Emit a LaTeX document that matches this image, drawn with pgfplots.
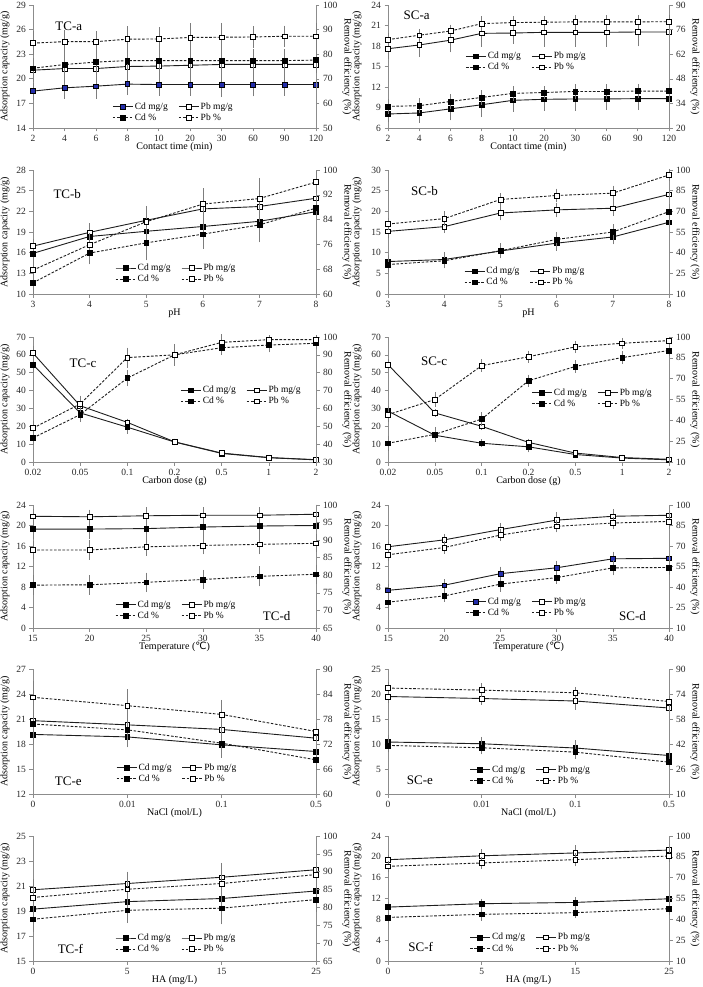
\documentclass[border=0pt]{standalone}
\usepackage{fontspec}
\setmainfont{Liberation Serif}
\newfontfamily\dejavu{DejaVu Sans}
\usepackage{pgfplots}
\pgfplotsset{compat=1.18}
\definecolor{axgray}{RGB}{140,140,140}
\definecolor{ebgray}{RGB}{125,125,125}
\definecolor{lnc}{RGB}{30,30,30}
\definecolor{cdblue}{RGB}{35,45,170}
\tikzset{ttl/.style={anchor=west, font=\fontsize{13}{14}\selectfont}}
\pgfplotsset{
  base/.style={scale only axis, clip=false, xmin=0,
    axis line style={draw=axgray, line width=0.8pt},
    tick style={draw=axgray, line width=0.6pt},
    major tick length=3.5pt, tick align=outside,
    tick label style={font=\fontsize{9.5}{10}\selectfont, text=black!85},
    label style={font=\fontsize{8.7}{10}\selectfont},
    /pgf/number format/assume math mode=true,
    legend image code/.code={\draw[mark repeat=2,mark phase=2,##1] plot coordinates {(0pt,0pt) (10pt,0pt) (20pt,0pt)};},
  },
  PL/.style={at={(33pt,#1)}, anchor=south west, width=283pt},
  PR/.style={at={(388pt,#1)}, anchor=south west, width=281pt},
  yl/.style={every axis y label/.style={at={(axis description cs:0,0.5)}, xshift=#1, rotate=90, anchor=center}},
  yr/.style={every axis y label/.style={at={(axis description cs:1,0.5)}, xshift=#1, rotate=-90, anchor=center}},
  LAX/.style={base, axis y line*=left, axis x line*=bottom, ylabel={Adsorption capacity (mg/g)},
    every axis x label/.style={at={(axis description cs:0.5,0)}, yshift=-19pt, anchor=center}},
  RAX/.style={base, axis y line*=right, axis x line=none, ylabel={Removal efficiency (\%)},
    legend cell align=left,
    legend style={draw=none, fill=none, anchor=north west, legend columns=2,
      font=\fontsize{9.5}{9.5}\selectfont, inner sep=0pt, row sep=0pt,
      nodes={inner sep=1.5pt},
      /tikz/every even column/.append style={column sep=9pt}}},
  cdm/.style={color=lnc, line width=0.9pt, solid, mark=square*, mark size=2.4pt, mark options={solid, fill=black, draw=black, line width=0.5pt}},
  cdmb/.style={cdm, mark options={solid, fill=cdblue, draw=black, line width=0.5pt}},
  pbm/.style={color=lnc, line width=0.9pt, solid, mark=square*, mark size=2.4pt, mark options={solid, fill=white, draw=black, line width=0.6pt}},
  dsh/.style={dash pattern=on 2.6pt off 1.6pt},
  cdp/.style={cdm, dsh},
  pbp/.style={pbm, dsh},
  eb/.style={error bars/y dir=both, error bars/y explicit,
    error bars/error bar style={ebgray, line width=0.5pt, solid},
    error bars/error mark options={ebgray, mark size=2pt, line width=0.5pt, solid}},
}
\begin{document}
\begin{tikzpicture}
\useasboundingbox (0pt,0pt) rectangle (703pt,-987pt);
% ===== TC-a =====
\begin{axis}[LAX, PL=-128pt, height=123pt, yl=-28pt, xmax=9, xtick={0,...,9},
  xticklabels={2,4,6,8,10,20,30,60,90,120}, ymin=14, ymax=29, ytick={14,17,...,29}, xlabel={Contact time (min)}]
\addplot[cdmb, eb] coordinates {(0,18.5)+-(0,0.8) (1,18.9)+-(0,1.1) (2,19.1)+-(0,1.3) (3,19.35)+-(0,1.1) (4,19.3)+-(0,1.1) (5,19.3)+-(0,1.1) (6,19.3)+-(0,1.3) (7,19.3)+-(0,1.2) (8,19.3)+-(0,1.1) (9,19.3)+-(0,1.3)};
\addplot[pbm, eb] coordinates {(0,21.05)+-(0,1.2) (1,21.25)+-(0,1.2) (2,21.25)+-(0,1.3) (3,21.5)+-(0,1.4) (4,21.55)+-(0,1.3) (5,21.65)+-(0,1.3) (6,21.75)+-(0,1.3) (7,21.75)+-(0,1.3) (8,21.75)+-(0,1.3) (9,21.75)+-(0,1.3)};
\node[ttl] at (rel axis cs:0.067,0.83) {TC-a};
\end{axis}
\begin{axis}[RAX, PL=-128pt, height=123pt, yr=31pt, xmax=9, ymin=50, ymax=100, ytick={50,60,...,100},
  legend style={at={(axis description cs:0.28,0.22)}}]
\addlegendimage{cdmb}\addlegendimage{pbm}
\addplot[cdp, eb] coordinates {(0,74.3)+-(0,3) (1,75.8)+-(0,4) (2,76.8)+-(0,4) (3,77.4)+-(0,4.5) (4,77.4)+-(0,4.5) (5,77.4)+-(0,4.5) (6,77.4)+-(0,4.5) (7,77.4)+-(0,4) (8,77.4)+-(0,4) (9,77.6)+-(0,4.5)};
\addplot[pbp, eb] coordinates {(0,84.5)+-(0,4) (1,85.1)+-(0,4) (2,85.1)+-(0,3.5) (3,86.1)+-(0,4.5) (4,86.2)+-(0,4) (5,86.8)+-(0,5) (6,86.9)+-(0,5) (7,87.0)+-(0,3.5) (8,87.3)+-(0,3.5) (9,87.3)+-(0,4.5)};
\legend{Cd mg/g, Pb mg/g, Cd \%, Pb \%}
\end{axis}
% ===== SC-a =====
\begin{axis}[LAX, PR=-128pt, height=123pt, yl=-31pt, xmax=9, xtick={0,...,9},
  xticklabels={2,4,6,8,10,20,30,60,90,120}, ymin=6, ymax=24, ytick={6,9,...,24}, xlabel={Contact time (min)}]
\addplot[cdm, eb] coordinates {(0,8.05)+-(0,0.9) (1,8.2)+-(0,1.2) (2,8.8)+-(0,1.4) (3,9.4)+-(0,1.5) (4,10.05)+-(0,1.4) (5,10.2)+-(0,1.4) (6,10.25)+-(0,1.4) (7,10.25)+-(0,1.3) (8,10.3)+-(0,1.4) (9,10.3)+-(0,1.4)};
\addplot[pbm, eb] coordinates {(0,17.6)+-(0,1.2) (1,18.15)+-(0,1.5) (2,18.85)+-(0,1.5) (3,19.85)+-(0,1.7) (4,19.9)+-(0,1.3) (5,20.0)+-(0,1.8) (6,20.0)+-(0,1.8) (7,20.0)+-(0,1.8) (8,20.05)+-(0,1.8) (9,20.05)+-(0,1.8)};
\node[ttl] at (rel axis cs:0.043,0.92) {SC-a};
\end{axis}
\begin{axis}[RAX, PR=-128pt, height=123pt, yr=26pt, xmax=9, ymin=20, ymax=90, ytick={20,34,...,90},
  legend style={at={(axis description cs:0.275,0.63)}}]
\addlegendimage{cdm}\addlegendimage{pbm}
\addplot[cdp, eb] coordinates {(0,32.3)+-(0,3) (1,32.7)+-(0,3) (2,35.1)+-(0,3) (3,37.4)+-(0,3) (4,39.7)+-(0,3) (5,40.2)+-(0,2.5) (6,40.8)+-(0,3) (7,40.8)+-(0,3) (8,41.0)+-(0,3) (9,41.0)+-(0,3)};
\addplot[pbp, eb] coordinates {(0,70.3)+-(0,2.5) (1,72.8)+-(0,2.5) (2,75.2)+-(0,2.5) (3,79.4)+-(0,3) (4,80.0)+-(0,2.5) (5,80.2)+-(0,2.5) (6,80.4)+-(0,2.5) (7,80.4)+-(0,2.5) (8,80.4)+-(0,2.5) (9,80.5)+-(0,2.5)};
\legend{Cd mg/g, Pb mg/g, Cd \%, Pb \%}
\end{axis}
% ===== TC-b =====
\begin{axis}[LAX, PL=-294pt, height=124pt, yl=-28pt, xmax=5, xtick={0,...,5},
  xticklabels={3,4,5,6,7,8}, ymin=10, ymax=28, ytick={10,13,...,28}, xlabel={pH}]
\addplot[cdm, eb] coordinates {(0,15.9)+-(0,0.8) (1,18.35)+-(0,1.0) (2,19.1)+-(0,1.5) (3,19.8)+-(0,1.6) (4,20.55)+-(0,1.8) (5,21.95)+-(0,0.9)};
\addplot[pbm, eb] coordinates {(0,16.95)+-(0,0.8) (1,18.95)+-(0,1.0) (2,20.7)+-(0,1.8) (3,22.35)+-(0,2.0) (4,22.7)+-(0,2.8) (5,23.9)+-(0,1.0)};
\node[ttl] at (rel axis cs:0.06,0.81) {TC-b};
\end{axis}
\begin{axis}[RAX, PL=-294pt, height=124pt, yr=31pt, xmax=5, ymin=60, ymax=100, ytick={60,68,...,100},
  legend style={at={(axis description cs:0.29,0.256)}}]
\addlegendimage{cdm}\addlegendimage{pbm}
\addplot[cdp, eb] coordinates {(0,63.6)+-(0,3) (1,73.2)+-(0,3) (2,76.5)+-(0,5) (3,79.3)+-(0,4) (4,82.3)+-(0,5) (5,87.7)+-(0,3)};
\addplot[pbp, eb] coordinates {(0,67.7)+-(0,3) (1,75.9)+-(0,3) (2,83.3)+-(0,4) (3,89.0)+-(0,4.5) (4,90.8)+-(0,6) (5,96.1)+-(0,3)};
\legend{Cd mg/g, Pb mg/g, Cd \%, Pb \%}
\end{axis}
% ===== SC-b =====
\begin{axis}[LAX, PR=-294pt, height=124pt, yl=-31pt, xmax=5, xtick={0,...,5},
  xticklabels={3,4,5,6,7,8}, ymin=0, ymax=30, ytick={0,5,...,30}, xlabel={pH}]
\addplot[cdm, eb] coordinates {(0,7.85)+-(0,1.2) (1,8.35)+-(0,1.3) (2,10.4)+-(0,1.2) (3,12.3)+-(0,1.3) (4,13.8)+-(0,1.3) (5,17.35)+-(0,1.0)};
\addplot[pbm, eb] coordinates {(0,15.15)+-(0,1.2) (1,16.3)+-(0,1.1) (2,19.6)+-(0,1.3) (3,20.35)+-(0,1.3) (4,20.75)+-(0,1.4) (5,24.1)+-(0,1.1)};
\node[ttl] at (rel axis cs:0.07,0.83) {SC-b};
\end{axis}
\begin{axis}[RAX, PR=-294pt, height=124pt, yr=26pt, xmax=5, ymin=10, ymax=100, ytick={10,25,...,100},
  legend style={at={(axis description cs:0.27,0.23)}}]
\addlegendimage{cdm}\addlegendimage{pbm}
\addplot[cdp, eb] coordinates {(0,31.4)+-(0,4) (1,34.1)+-(0,4) (2,41.4)+-(0,4) (3,49.6)+-(0,4) (4,55.0)+-(0,4) (5,69.8)+-(0,4)};
\addplot[pbp, eb] coordinates {(0,60.8)+-(0,3) (1,64.7)+-(0,4) (2,78.6)+-(0,3) (3,81.5)+-(0,3.5) (4,83.2)+-(0,4) (5,96.4)+-(0,3)};
\legend{Cd mg/g, Pb mg/g, Cd \%, Pb \%}
\end{axis}
% ===== TC-c =====
\begin{axis}[LAX, PL=-462pt, height=125pt, yl=-28pt, xmax=6, xtick={0,...,6},
  xticklabels={0.02,0.05,0.1,0.2,0.5,1,2}, ymin=0, ymax=70, ytick={0,10,...,70}, xlabel={Carbon dose (g)}]
\addplot[cdm, eb] coordinates {(0,54.5)+-(0,3) (1,27.5)+-(0,2) (2,19.5)+-(0,2.5) (3,11.2)+-(0,0.8) (4,4.8)+-(0,0.8) (5,2.4)+-(0,0.5) (6,1.2)+-(0,0.4)};
\addplot[pbm, eb] coordinates {(0,61)+-(0,3) (1,31.5)+-(0,2) (2,22.2)+-(0,1) (3,11.3)+-(0,0.6) (4,5)+-(0,0.5) (5,2.5)+-(0,0.4) (6,1.3)+-(0,0.3)};
\node[ttl] at (rel axis cs:0.117,0.79) {TC-c};
\end{axis}
\begin{axis}[RAX, PL=-462pt, height=125pt, yr=31pt, xmax=6, ymin=30, ymax=100, ytick={30,40,...,100},
  legend style={at={(axis description cs:0.52,0.62)}}]
\addlegendimage{cdm}\addlegendimage{pbm}
\addplot[cdp, eb] coordinates {(0,43.5)+-(0,3) (1,56.5)+-(0,3) (2,77)+-(0,3.5) (3,90)+-(0,4) (4,94)+-(0,3) (5,95.5)+-(0,3) (6,96.5)+-(0,2)};
\addplot[pbp, eb] coordinates {(0,49)+-(0,3) (1,62.5)+-(0,3.5) (2,88.5)+-(0,4.5) (3,90)+-(0,5) (4,97)+-(0,3.5) (5,98.5)+-(0,1.5) (6,98.5)+-(0,1.5)};
\legend{Cd mg/g, Pb mg/g, Cd \%, Pb \%}
\end{axis}
% ===== SC-c =====
\begin{axis}[LAX, PR=-462pt, height=125pt, yl=-31pt, xmax=6, xtick={0,...,6},
  xticklabels={0.02,0.05,0.1,0.2,0.5,1,2}, ymin=0, ymax=70, ytick={0,10,...,70}, xlabel={Carbon dose (g)}]
\addplot[cdm, eb] coordinates {(0,28.5)+-(0,2) (1,15)+-(0,2.5) (2,10.5)+-(0,1) (3,8.5)+-(0,2) (4,4.2)+-(0,0.8) (5,2.2)+-(0,0.5) (6,1.2)+-(0,0.4)};
\addplot[pbm, eb] coordinates {(0,54.5)+-(0,2) (1,27.5)+-(0,1) (2,20)+-(0,1) (3,11)+-(0,1) (4,5)+-(0,0.6) (5,2.5)+-(0,0.5) (6,1.5)+-(0,0.4)};
\node[ttl] at (rel axis cs:0.105,0.81) {SC-c};
\end{axis}
\begin{axis}[RAX, PR=-462pt, height=125pt, yr=26pt, xmax=6, ymin=10, ymax=100, ytick={10,25,...,100},
  legend style={at={(axis description cs:0.51,0.60)}}]
\addlegendimage{cdm}\addlegendimage{pbm}
\addplot[cdp, eb] coordinates {(0,23.5)+-(0,4) (1,29.9)+-(0,4) (2,40.9)+-(0,3.5) (3,68.5)+-(0,3) (4,78.8)+-(0,3) (5,85.2)+-(0,3) (6,90.3)+-(0,2.5)};
\addplot[pbp, eb] coordinates {(0,44.1)+-(0,3.5) (1,55)+-(0,4) (2,79.4)+-(0,3) (3,85.8)+-(0,3) (4,92.9)+-(0,3) (5,95.5)+-(0,2.5) (6,97.4)+-(0,1.5)};
\legend{Cd mg/g, Pb mg/g, Cd \%, Pb \%}
\end{axis}
% ===== TC-d =====
\begin{axis}[LAX, PL=-628pt, height=123pt, yl=-28pt, xmax=5, xtick={0,...,5},
  xticklabels={15,20,25,30,35,40}, ymin=0, ymax=24, ytick={0,4,...,24}, xlabel={Temperature ({\dejavu ℃})}]
\addplot[cdm, eb] coordinates {(0,19.3)+-(0,1.5) (1,19.3)+-(0,1.5) (2,19.4)+-(0,1.5) (3,19.7)+-(0,1.5) (4,19.9)+-(0,1.5) (5,20.0)+-(0,1.5)};
\addplot[pbm, eb] coordinates {(0,21.8)+-(0,1.0) (1,21.7)+-(0,1.0) (2,21.9)+-(0,1.3) (3,22.0)+-(0,1.2) (4,22.0)+-(0,1.2) (5,22.2)+-(0,1.5)};
\node[ttl] at (rel axis cs:0.80,0.10) {TC-d};
\end{axis}
\begin{axis}[RAX, PL=-628pt, height=123pt, yr=31pt, xmax=5, ymin=65, ymax=100, ytick={65,70,...,100},
  legend style={at={(axis description cs:0.29,0.235)}}]
\addlegendimage{cdm}\addlegendimage{pbm}
\addplot[cdp, eb] coordinates {(0,77.2)+-(0,2.2) (1,77.3)+-(0,2.2) (2,78.0)+-(0,2.2) (3,78.8)+-(0,2.2) (4,79.7)+-(0,2.3) (5,80.3)+-(0,2.2)};
\addplot[pbp, eb] coordinates {(0,87.2)+-(0,2) (1,87.2)+-(0,2.2) (2,88.1)+-(0,2) (3,88.5)+-(0,2) (4,88.8)+-(0,2.3) (5,89.1)+-(0,2)};
\legend{Cd mg/g, Pb mg/g, Cd \%, Pb \%}
\end{axis}
% ===== SC-d =====
\begin{axis}[LAX, PR=-628pt, height=123pt, yl=-31pt, xmax=5, xtick={0,...,5},
  xticklabels={15,20,25,30,35,40}, ymin=0, ymax=24, ytick={0,4,...,24}, xlabel={Temperature ({\dejavu ℃})}]
\addplot[cdmb, eb] coordinates {(0,7.35)+-(0,0.8) (1,8.35)+-(0,0.8) (2,10.6)+-(0,1.0) (3,11.75)+-(0,1.0) (4,13.5)+-(0,1.0) (5,13.6)+-(0,1.2)};
\addplot[pbm, eb] coordinates {(0,15.85)+-(0,0.6) (1,17.2)+-(0,0.8) (2,19.2)+-(0,0.9) (3,21.05)+-(0,1.2) (4,21.8)+-(0,1.0) (5,22.0)+-(0,1.0)};
\node[ttl] at (rel axis cs:0.81,0.10) {SC-d};
\end{axis}
\begin{axis}[RAX, PR=-628pt, height=123pt, yr=26pt, xmax=5, ymin=10, ymax=100, ytick={10,25,...,100},
  legend style={at={(axis description cs:0.275,0.26)}}]
\addlegendimage{cdmb}\addlegendimage{pbm}
\addplot[cdp, eb] coordinates {(0,28.9)+-(0,3) (1,33.5)+-(0,3) (2,42.1)+-(0,4) (3,46.9)+-(0,3) (4,54.0)+-(0,4) (5,54.3)+-(0,4)};
\addplot[pbp, eb] coordinates {(0,63.6)+-(0,3) (1,68.9)+-(0,3) (2,78.0)+-(0,3) (3,84.4)+-(0,3) (4,86.8)+-(0,3) (5,88.0)+-(0,4)};
\legend{Cd mg/g, Pb mg/g, Cd \%, Pb \%}
\end{axis}
% ===== TC-e =====
\begin{axis}[LAX, PL=-794pt, height=125pt, yl=-28pt, xmax=3, xtick={0,...,3},
  xticklabels={0,0.01,0.1,0.5}, ymin=12, ymax=27, ytick={12,15,...,27}, xlabel={NaCl (mol/L)}]
\addplot[cdm, eb] coordinates {(0,19.15)+-(0,0.9) (1,18.85)+-(0,1.0) (2,17.9)+-(0,1.0) (3,17.1)+-(0,0.8)};
\addplot[pbm, eb] coordinates {(0,20.8)+-(0,1.0) (1,20.3)+-(0,1.2) (2,19.75)+-(0,1.2) (3,18.7)+-(0,0.8)};
\node[ttl] at (rel axis cs:0.065,0.10) {TC-e};
\end{axis}
\begin{axis}[RAX, PL=-794pt, height=125pt, yr=31pt, xmax=3, ymin=60, ymax=90, ytick={60,66,...,90},
  legend style={at={(axis description cs:0.293,0.256)}}]
\addlegendimage{cdm}\addlegendimage{pbm}
\addplot[cdp, eb] coordinates {(0,76.8)+-(0,3) (1,75.4)+-(0,3) (2,72.2)+-(0,3) (3,68.2)+-(0,2)};
\addplot[pbp, eb] coordinates {(0,83.2)+-(0,3.5) (1,81.2)+-(0,3.5) (2,79.1)+-(0,3) (3,75.0)+-(0,1.5)};
\legend{Cd mg/g, Pb mg/g, Cd \%, Pb \%}
\end{axis}
% ===== SC-e =====
\begin{axis}[LAX, PR=-794pt, height=125pt, yl=-31pt, xmax=3, xtick={0,...,3},
  xticklabels={0,0.01,0.1,0.5}, ymin=0, ymax=25, ytick={0,5,...,25}, xlabel={NaCl (mol/L)}]
\addplot[cdm, eb] coordinates {(0,10.4)+-(0,1.0) (1,10.05)+-(0,1.0) (2,9.2)+-(0,1.2) (3,7.7)+-(0,0.5)};
\addplot[pbm, eb] coordinates {(0,19.5)+-(0,0.8) (1,19.1)+-(0,0.8) (2,18.6)+-(0,1.3) (3,17.2)+-(0,0.5)};
\node[ttl] at (rel axis cs:0.055,0.11) {SC-e};
\end{axis}
\begin{axis}[RAX, PR=-794pt, height=125pt, yr=26pt, xmax=3, ymin=10, ymax=90, ytick={10,26,...,90},
  legend style={at={(axis description cs:0.29,0.24)}}]
\addlegendimage{cdm}\addlegendimage{pbm}
\addplot[cdp, eb] coordinates {(0,41.1)+-(0,3) (1,39.6)+-(0,3) (2,36.8)+-(0,3) (3,30.4)+-(0,2)};
\addplot[pbp, eb] coordinates {(0,77.8)+-(0,2.5) (1,76.5)+-(0,3) (2,74.8)+-(0,2.5) (3,69.2)+-(0,2)};
\legend{Cd mg/g, Pb mg/g, Cd \%, Pb \%}
\end{axis}
% ===== TC-f =====
\begin{axis}[LAX, PL=-961pt, height=125pt, yl=-28pt, xmax=3, xtick={0,...,3},
  xticklabels={0,5,15,25}, ymin=15, ymax=25, ytick={15,17,...,25}, xlabel={HA (mg/L)}]
\addplot[cdm, eb] coordinates {(0,19.15)+-(0,0.6) (1,19.75)+-(0,0.7) (2,20.0)+-(0,0.8) (3,20.6)+-(0,0.7)};
\addplot[pbm, eb] coordinates {(0,20.7)+-(0,0.7) (1,21.2)+-(0,0.8) (2,21.7)+-(0,1.0) (3,22.3)+-(0,1.0)};
\node[ttl] at (rel axis cs:0.075,0.10) {TC-f};
\end{axis}
\begin{axis}[RAX, PL=-961pt, height=125pt, yr=31pt, xmax=3, ymin=65, ymax=100, ytick={65,70,...,100},
  legend style={at={(axis description cs:0.29,0.23)}}]
\addlegendimage{cdm}\addlegendimage{pbm}
\addplot[cdp, eb] coordinates {(0,76.7)+-(0,3) (1,79.2)+-(0,3) (2,79.8)+-(0,4) (3,82.2)+-(0,3)};
\addplot[pbp, eb] coordinates {(0,82.8)+-(0,3) (1,85.1)+-(0,4) (2,86.7)+-(0,4) (3,89.2)+-(0,3)};
\legend{Cd mg/g, Pb mg/g, Cd \%, Pb \%}
\end{axis}
% ===== SC-f =====
\begin{axis}[LAX, PR=-961pt, height=125pt, yl=-31pt, xmax=3, xtick={0,...,3},
  xticklabels={0,5,15,25}, ymin=0, ymax=24, ytick={0,4,...,24}, xlabel={HA (mg/L)}]
\addplot[cdm, eb] coordinates {(0,10.35)+-(0,0.6) (1,11.0)+-(0,0.6) (2,11.25)+-(0,0.6) (3,11.95)+-(0,0.7)};
\addplot[pbm, eb] coordinates {(0,19.45)+-(0,0.6) (1,20.2)+-(0,0.9) (2,20.75)+-(0,1.1) (3,21.3)+-(0,1.2)};
\node[ttl] at (rel axis cs:0.06,0.11) {SC-f};
\end{axis}
\begin{axis}[RAX, PR=-961pt, height=125pt, yr=26pt, xmax=3, ymin=10, ymax=100, ytick={10,25,...,100},
  legend style={at={(axis description cs:0.29,0.235)}}]
\addlegendimage{cdm}\addlegendimage{pbm}
\addplot[cdp, eb] coordinates {(0,41.4)+-(0,2.5) (1,43.6)+-(0,3) (2,44.8)+-(0,2.5) (3,47.7)+-(0,3)};
\addplot[pbp, eb] coordinates {(0,78.2)+-(0,2.5) (1,80.6)+-(0,3) (2,83.0)+-(0,3.5) (3,85.6)+-(0,3)};
\legend{Cd mg/g, Pb mg/g, Cd \%, Pb \%}
\end{axis}
\end{tikzpicture}
\end{document}
